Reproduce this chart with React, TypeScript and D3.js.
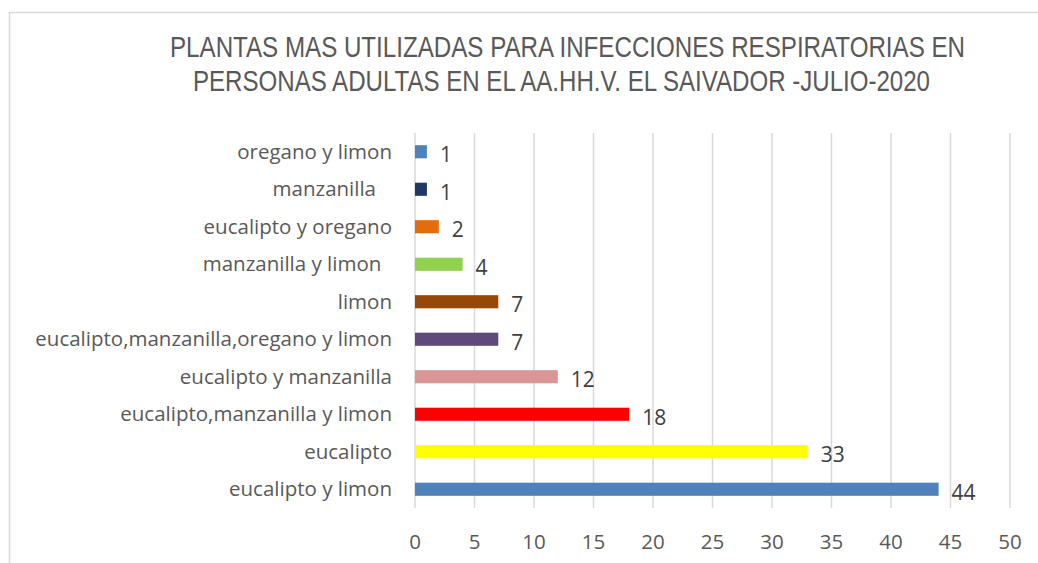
import React from 'react';
import * as d3 from 'd3';

// some source labels carry trailing blanks, kept as in the original sheet
const categories = [
  'oregano y limon',
  'manzanilla   ',
  'eucalipto y oregano',
  'manzanilla y limon  ',
  'limon',
  'eucalipto,manzanilla,oregano y limon',
  'eucalipto y manzanilla',
  'eucalipto,manzanilla y limon',
  'eucalipto',
  'eucalipto y limon',
];
const values = [1, 1, 2, 4, 7, 7, 12, 18, 33, 44];
const barColors = [
  '#4f81bd', '#1f3864', '#e46c0a', '#92d050', '#974806',
  '#604a7b', '#d99694', '#ff0000', '#ffff00', '#4f81bd',
];
const xTicks = [0, 5, 10, 15, 20, 25, 30, 35, 40, 45, 50];
const titleLines = [
  'PLANTAS MAS UTILIZADAS PARA INFECCIONES RESPIRATORIAS EN',
  'PERSONAS ADULTAS EN EL AA.HH.V. EL SAIVADOR -JULIO-2020',
];

const W = 1038;
const H = 563;
const font = "'Open Sans', 'Noto Sans', sans-serif";
const narrow = 0.8; // squeeze for the condensed title face

const App: React.FC = () => {
  const x = d3.scaleLinear().domain([0, 50]).range([415, 1010]);
  const y = d3.scaleBand<string>()
    .domain(categories)
    .range([133, 508])
    .paddingInner(0.65)
    .paddingOuter(0.325);
  const bh = y.bandwidth();

  return (
    <svg width={W} height={H} style={{ position: 'absolute', left: 0, top: 0, background: '#fff' }}>
      {/* chart frame */}
      <rect x={9.5} y={12.5} width={W + 20} height={H + 20} fill="#fff" stroke="#d9d9d9" strokeWidth={1.5} />

      {/* title */}
      <g fill="#595959" fontFamily="'Liberation Sans Narrow', 'Liberation Sans', Arial, sans-serif" fontSize={29}>
        <text transform={`translate(170,57) scale(${narrow},1)`} textLength={795 / narrow} lengthAdjust="spacingAndGlyphs">{titleLines[0]}</text>
        <text transform={`translate(193,91) scale(${narrow},1)`} textLength={737 / narrow} lengthAdjust="spacingAndGlyphs">{titleLines[1]}</text>
      </g>

      {/* gridlines */}
      <g stroke="#d9d9d9" strokeWidth={1.5}>
        {xTicks.map(t => (
          <line key={t} x1={x(t)} x2={x(t)} y1={133} y2={508} />
        ))}
      </g>

      {/* x tick labels */}
      <g fill="#595959" fontFamily={font} fontSize={20.5} textAnchor="middle">
        {xTicks.map(t => (
          <text key={t} x={x(t)} y={549}>{t}</text>
        ))}
      </g>

      {/* bars */}
      {categories.map((c, i) => (
        <rect key={c} x={x(0)} y={y(c)!} width={x(values[i]) - x(0)} height={bh} fill={barColors[i]} />
      ))}

      {/* category labels */}
      <g fill="#595959" fontFamily={font} fontSize={20.5} textAnchor="end">
        {categories.map(c => (
          <text key={c} x={392} y={y(c)! + bh / 2} dy="0.35em" xmlSpace="preserve" style={{ whiteSpace: 'pre' }}>{c}</text>
        ))}
      </g>

      {/* value labels */}
      <g fill="#404040" fontFamily={font} fontSize={21}>
        {categories.map((c, i) => (
          <text key={c} x={x(values[i]) + 13} y={y(c)! + bh / 2 + 3} dy="0.35em">{values[i]}</text>
        ))}
      </g>
    </svg>
  );
};

export default App;
